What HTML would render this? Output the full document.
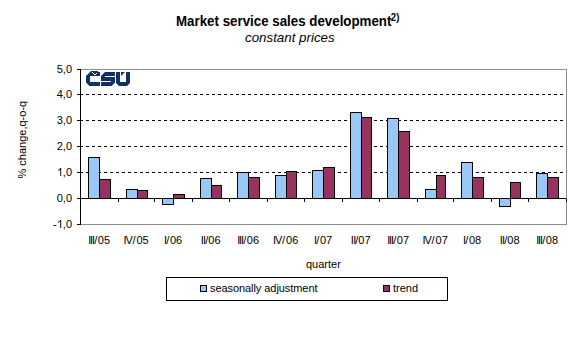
<!DOCTYPE html>
<html><head><meta charset="utf-8"><style>
html,body{margin:0;padding:0;background:#fff;}
svg{display:block;}
text{font-family:"Liberation Sans",sans-serif;fill:#000;}
.s{font-size:11px;}
</style></head><body>
<svg width="576" height="340" viewBox="0 0 576 340" shape-rendering="crispEdges">
<rect width="576" height="340" fill="#fff"/>
<text x="176" y="0" transform="translate(0,26) scale(1,1.05)" style="font-weight:bold;font-size:13.33px">Market service sales development<tspan dx="-0.6" dy="-5.2" style="font-size:9.6px">2)</tspan></text>
<text x="245" y="42" style="font-style:italic;font-size:13.33px">constant prices</text>
<text transform="translate(26,178.5) rotate(-90)" class="s">% change,q-o-q</text>
<line x1="80" y1="94.5" x2="563" y2="94.5" stroke="#000" stroke-dasharray="3 3"/>
<line x1="80" y1="120.5" x2="563" y2="120.5" stroke="#000" stroke-dasharray="3 3"/>
<line x1="80" y1="146.5" x2="563" y2="146.5" stroke="#000" stroke-dasharray="3 3"/>
<line x1="80" y1="172.5" x2="563" y2="172.5" stroke="#000" stroke-dasharray="3 3"/>
<path d="M80 69.5H566.5V224.5H80" fill="none" stroke="#8C8C8C"/>
<rect x="88.5" y="157.5" width="11" height="41" fill="#9AC8F6" stroke="#000"/>
<rect x="99.5" y="179.5" width="11" height="19" fill="#98325F" stroke="#000"/>
<rect x="126.5" y="189.5" width="11" height="9" fill="#9AC8F6" stroke="#000"/>
<rect x="137.5" y="190.5" width="10" height="8" fill="#98325F" stroke="#000"/>
<rect x="162.5" y="198.5" width="11" height="6" fill="#9AC8F6" stroke="#000"/>
<rect x="173.5" y="194.5" width="11" height="4" fill="#98325F" stroke="#000"/>
<rect x="200.5" y="178.5" width="11" height="20" fill="#9AC8F6" stroke="#000"/>
<rect x="211.5" y="185.5" width="10" height="13" fill="#98325F" stroke="#000"/>
<rect x="237.5" y="172.5" width="11" height="26" fill="#9AC8F6" stroke="#000"/>
<rect x="248.5" y="177.5" width="11" height="21" fill="#98325F" stroke="#000"/>
<rect x="275.5" y="175.5" width="11" height="23" fill="#9AC8F6" stroke="#000"/>
<rect x="286.5" y="171.5" width="10" height="27" fill="#98325F" stroke="#000"/>
<rect x="312.5" y="170.5" width="11" height="28" fill="#9AC8F6" stroke="#000"/>
<rect x="323.5" y="167.5" width="11" height="31" fill="#98325F" stroke="#000"/>
<rect x="350.5" y="112.5" width="11" height="86" fill="#9AC8F6" stroke="#000"/>
<rect x="361.5" y="117.5" width="10" height="81" fill="#98325F" stroke="#000"/>
<rect x="387.5" y="118.5" width="11" height="80" fill="#9AC8F6" stroke="#000"/>
<rect x="398.5" y="131.5" width="11" height="67" fill="#98325F" stroke="#000"/>
<rect x="425.5" y="189.5" width="11" height="9" fill="#9AC8F6" stroke="#000"/>
<rect x="436.5" y="175.5" width="9" height="23" fill="#98325F" stroke="#000"/>
<rect x="461.5" y="162.5" width="11" height="36" fill="#9AC8F6" stroke="#000"/>
<rect x="472.5" y="177.5" width="11" height="21" fill="#98325F" stroke="#000"/>
<rect x="499.5" y="198.5" width="11" height="8" fill="#9AC8F6" stroke="#000"/>
<rect x="510.5" y="182.5" width="10" height="16" fill="#98325F" stroke="#000"/>
<rect x="536.5" y="173.5" width="11" height="25" fill="#9AC8F6" stroke="#000"/>
<rect x="547.5" y="177.5" width="11" height="21" fill="#98325F" stroke="#000"/>
<line x1="80" y1="198.5" x2="566" y2="198.5" stroke="#000"/>
<line x1="118.5" y1="198.5" x2="118.5" y2="201.5" stroke="#000"/>
<line x1="154.5" y1="198.5" x2="154.5" y2="201.5" stroke="#000"/>
<line x1="192.5" y1="198.5" x2="192.5" y2="201.5" stroke="#000"/>
<line x1="229.5" y1="198.5" x2="229.5" y2="201.5" stroke="#000"/>
<line x1="267.5" y1="198.5" x2="267.5" y2="201.5" stroke="#000"/>
<line x1="304.5" y1="198.5" x2="304.5" y2="201.5" stroke="#000"/>
<line x1="342.5" y1="198.5" x2="342.5" y2="201.5" stroke="#000"/>
<line x1="379.5" y1="198.5" x2="379.5" y2="201.5" stroke="#000"/>
<line x1="417.5" y1="198.5" x2="417.5" y2="201.5" stroke="#000"/>
<line x1="453.5" y1="198.5" x2="453.5" y2="201.5" stroke="#000"/>
<line x1="491.5" y1="198.5" x2="491.5" y2="201.5" stroke="#000"/>
<line x1="528.5" y1="198.5" x2="528.5" y2="201.5" stroke="#000"/>
<line x1="566.5" y1="198.5" x2="566.5" y2="201.5" stroke="#000"/>
<line x1="80.5" y1="69" x2="80.5" y2="225" stroke="#000"/>
<line x1="77" y1="224.5" x2="80" y2="224.5" stroke="#000"/>
<path shape-rendering="geometricPrecision" fill="#111" d="M60.2 220 H61.2 V228 H60.2 V221.6 Q59.3 222.5 58.0 223.0 V222.1 Q59.5 221.4 60.2 220 Z"/>
<text x="52.9 62.8 66.0" y="228" class="s">-,0</text>
<line x1="77" y1="198.5" x2="80" y2="198.5" stroke="#000"/>
<text x="56.8 62.8 66.0" y="202" class="s">0,0</text>
<line x1="77" y1="172.5" x2="80" y2="172.5" stroke="#000"/>
<path shape-rendering="geometricPrecision" fill="#111" d="M60.2 168 H61.2 V176 H60.2 V169.6 Q59.3 170.5 58.0 171.0 V170.1 Q59.5 169.4 60.2 168 Z"/>
<text x="62.8 66.0" y="176" class="s">,0</text>
<line x1="77" y1="146.5" x2="80" y2="146.5" stroke="#000"/>
<text x="56.8 62.8 66.0" y="150" class="s">2,0</text>
<line x1="77" y1="120.5" x2="80" y2="120.5" stroke="#000"/>
<text x="56.8 62.8 66.0" y="124" class="s">3,0</text>
<line x1="77" y1="94.5" x2="80" y2="94.5" stroke="#000"/>
<text x="56.8 62.8 66.0" y="98" class="s">4,0</text>
<line x1="77" y1="69.5" x2="80" y2="69.5" stroke="#000"/>
<text x="56.8 62.8 66.0" y="73" class="s">5,0</text>
<text x="88.21 90.06 91.91 94.13 97.80 103.92" y="244" class="s">III/05</text>
<text x="123.51 125.58 132.43 136.50 142.62" y="244" class="s">IV/05</text>
<text x="164.07 166.19 169.96 176.08" y="244" class="s">I/06</text>
<text x="200.72 203.12 205.14 208.31 214.43" y="244" class="s">II/06</text>
<text x="237.22 239.07 240.92 243.14 246.81 252.93" y="244" class="s">III/06</text>
<text x="273.02 275.09 281.94 286.01 292.13" y="244" class="s">IV/06</text>
<text x="314.11 316.23 320.00 326.12" y="244" class="s">I/07</text>
<text x="350.75 353.15 355.17 358.34 364.46" y="244" class="s">II/07</text>
<text x="387.25 389.11 390.95 393.17 396.84 402.96" y="244" class="s">III/07</text>
<text x="422.56 424.62 431.47 435.54 441.66" y="244" class="s">IV/07</text>
<text x="463.06 465.19 468.95 475.07" y="244" class="s">I/08</text>
<text x="499.71 502.11 504.13 507.30 513.42" y="244" class="s">II/08</text>
<text x="536.22 538.07 539.92 542.13 545.81 551.92" y="244" class="s">III/08</text>
<text x="306" y="268" class="s">quarter</text>
<rect x="166.5" y="277.5" width="281" height="23" fill="#fff" stroke="#000"/>
<rect x="200.5" y="285.5" width="6" height="6" fill="#9AC8F6" stroke="#000"/>
<text x="210" y="292" class="s" textLength="107.5" lengthAdjust="spacing">seasonally adjustment</text>
<rect x="383.5" y="285.5" width="6" height="6" fill="#98325F" stroke="#000"/>
<text x="393" y="292" class="s">trend</text>
<g fill="#0F3165" shape-rendering="geometricPrecision">
<path d="M86 76 L91 71 L98 71 L98 72 L100 72 L100 76 L90 76 L90 82 L100 82 L100 86 L89.5 86 L86 82.5 Z"/>
<path d="M101 76 L105 72 L115 72 L115 76 L105 76 L105 77 L115 77 L115 82.5 L111.5 86 L101 86 L101 82 L111 82 L111 81 L101 81 Z"/>
<path d="M116 72 L120 72 L120 82 L126 82 L126 72 L130 72 L130 83 L127 86 L119 86 L116 83 Z"/>
<path d="M121 72 L125 72 L121 76 Z"/>
</g>
<g fill="#fff" shape-rendering="crispEdges"><rect x="92" y="72" width="1" height="1"/><rect x="93" y="73" width="1" height="1"/><rect x="94" y="74" width="2" height="1"/><rect x="96" y="73" width="1" height="1"/></g>
</svg>
</body></html>
